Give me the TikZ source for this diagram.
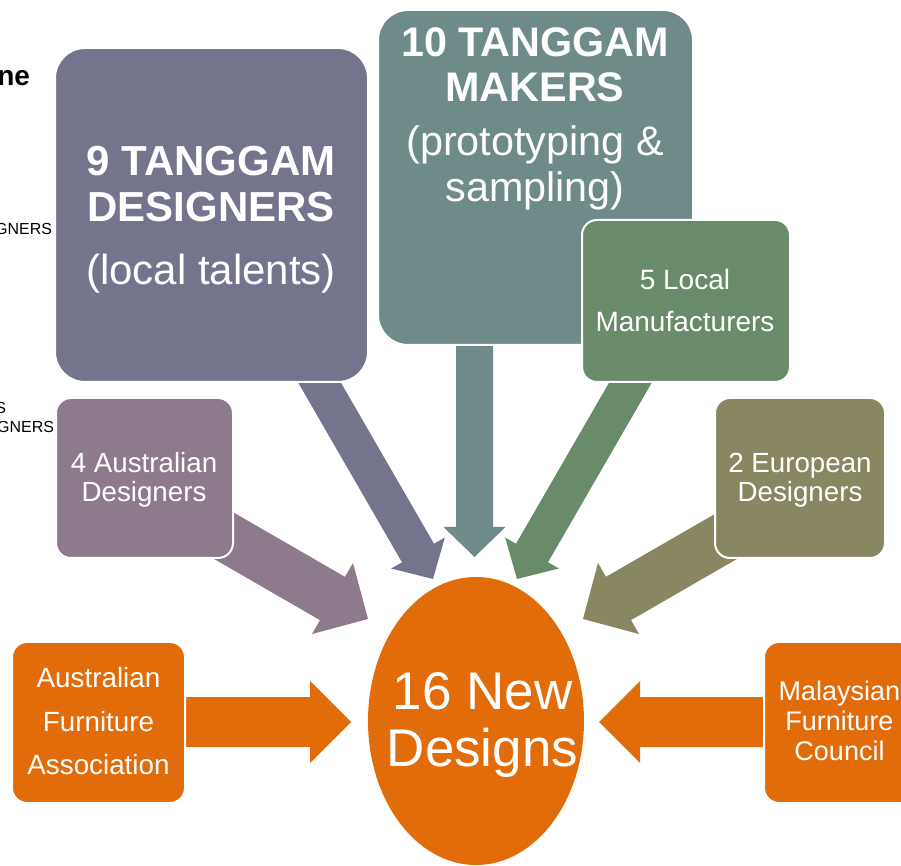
\documentclass[tikz,border=0pt]{standalone}
\usepackage{fontspec}
\setmainfont{Liberation Sans}
\usetikzlibrary{calc,shapes.geometric}
\definecolor{cdesign}{HTML}{75748D}
\definecolor{cmaker}{HTML}{6E8A89}
\definecolor{cmanuf}{HTML}{6A8B6A}
\definecolor{caus}{HTML}{8D7B8D}
\definecolor{ceuro}{HTML}{888762}
\definecolor{corange}{HTML}{E36C0A}
% #1 tail, #2 tip, #3 shaft half width, #4 head half width, #5 head length, #6 colour
\newcommand\convarrow[6]{%
  \path ($(#2)!#5!(#1)$) coordinate (cv-h);
  \fill[#6] ($(#1)!#3!90:(#2)$) -- ($(cv-h)!#3!90:(#2)$) -- ($(cv-h)!#4!90:(#2)$)
    -- (#2) -- ($(cv-h)!#4!-90:(#2)$) -- ($(cv-h)!#3!-90:(#2)$)
    -- ($(#1)!#3!-90:(#2)$) -- cycle;}
\newcommand\smallarrow[3]{\convarrow{#1}{#2}{13.875pt}{23.25pt}{22.5pt}{#3}}
\newcommand\bigarrow[3]{\convarrow{#1}{#2}{18.75pt}{30.75pt}{30.75pt}{#3}}
\begin{document}
\begin{tikzpicture}[x=0.75pt,y=-0.75pt,
  every node/.style={inner sep=0pt,outer sep=0pt},
  bigbox/.style={rectangle,draw=white,line width=1.5pt,rounded corners=22.5pt},
  smallbox/.style={rectangle,draw=white,line width=1.5pt,rounded corners=11.25pt},
  sz/.style 2 args={minimum width=#1*0.75pt,minimum height=#2*0.75pt},
  lbl/.style={anchor=north,align=center,text=white},
  frag/.style={anchor=base east,text=black}]
\fill[white] (0,0) rectangle (901,866);
\useasboundingbox (0,0) rectangle (901,866);

% cut-off background text at the left edge
\node[frag,font=\fontsize{21pt}{25pt}\selectfont\bfseries] (frag-ne) at (30,86) {ne};
\node[frag,font=\fontsize{12pt}{14pt}\selectfont] (frag-g1) at (52,235) {GNERS};
\node[frag,font=\fontsize{12pt}{14pt}\selectfont] (frag-s) at (6,414) {S};
\node[frag,font=\fontsize{12pt}{14pt}\selectfont] (frag-g2) at (54,433) {GNERS};

% arrow ends
\coordinate (t-des) at (303,354);    \coordinate (h-des) at (433,579);
\coordinate (t-mak) at (474.5,330);  \coordinate (h-mak) at (474.5,557);
\coordinate (t-man) at (647,354);    \coordinate (h-man) at (517,579);
\coordinate (t-aus) at (159.3,498.5);\coordinate (h-aus) at (368,619);
\coordinate (t-eur) at (791.7,498.5);\coordinate (h-eur) at (583,619);
\coordinate (t-afa) at (150,722);    \coordinate (h-afa) at (351,722);
\coordinate (t-mfc) at (800,722);    \coordinate (h-mfc) at (599,722);

\smallarrow{t-des}{h-des}{cdesign}
\smallarrow{t-mak}{h-mak}{cmaker}
\smallarrow{t-man}{h-man}{cmanuf}
\bigarrow{t-aus}{h-aus}{caus}
\bigarrow{t-eur}{h-eur}{ceuro}
\bigarrow{t-afa}{h-afa}{corange}
\bigarrow{t-mfc}{h-mfc}{corange}

% boxes
\node[bigbox,fill=cdesign,sz={313}{334}] (designers) at (211.5,215) {};
\node[bigbox,fill=cmaker,sz={315}{335}] (makers) at (535.5,177.5) {};
\node[smallbox,fill=cmanuf,sz={208}{162}] (manuf) at (686,301) {};
\node[smallbox,fill=caus,sz={177}{160}] (ausdes) at (144.5,478) {};
\node[smallbox,fill=ceuro,sz={170}{160}] (eurodes) at (800,478) {};
\node[smallbox,fill=corange,sz={173}{161}] (afa) at (98.5,722.5) {};
\node[smallbox,fill=corange,sz={151}{161}] (mfc) at (839.5,722.5) {};
\node[ellipse,fill=corange,sz={216}{288}] (newdesigns) at (476,721) {};

% texts
\node[lbl,font=\fontsize{31.5pt}{34.5pt}\selectfont] (designers-txt) at (211,146.3)
  {\textbf{9 TANGGAM}\\\textbf{DESIGNERS}\\[12.5pt](local talents)};
\node[lbl,font=\fontsize{31pt}{34pt}\selectfont] (makers-txt) at (535,27.5)
  {\textbf{10 TANGGAM}\\\textbf{MAKERS}\\[6.5pt](prototyping \&\\sampling)};
\node[lbl,font=\fontsize{21pt}{31.5pt}\selectfont] (manuf-txt) at (685,269.6)
  {5 Local\\Manufacturers};
\node[lbl,font=\fontsize{20.8pt}{21.75pt}\selectfont] (ausdes-txt) at (144,452.8)
  {4 Australian\\Designers};
\node[lbl,font=\fontsize{20.8pt}{21.75pt}\selectfont] (eurodes-txt) at (800,452.8)
  {2 European\\Designers};
\node[lbl,font=\fontsize{20.85pt}{32.6pt}\selectfont] (afa-txt) at (98.5,667.7)
  {Australian\\Furniture\\Association};
\node[lbl,font=\fontsize{20.25pt}{22.5pt}\selectfont] (mfc-txt) at (839.5,680.7)
  {Malaysian\\Furniture\\Council};
\node[lbl,font=\fontsize{39.75pt}{42.75pt}\selectfont] (newdesigns-txt) at (482.5,672.3)
  {16 New\\Designs};
\end{tikzpicture}
\end{document}
